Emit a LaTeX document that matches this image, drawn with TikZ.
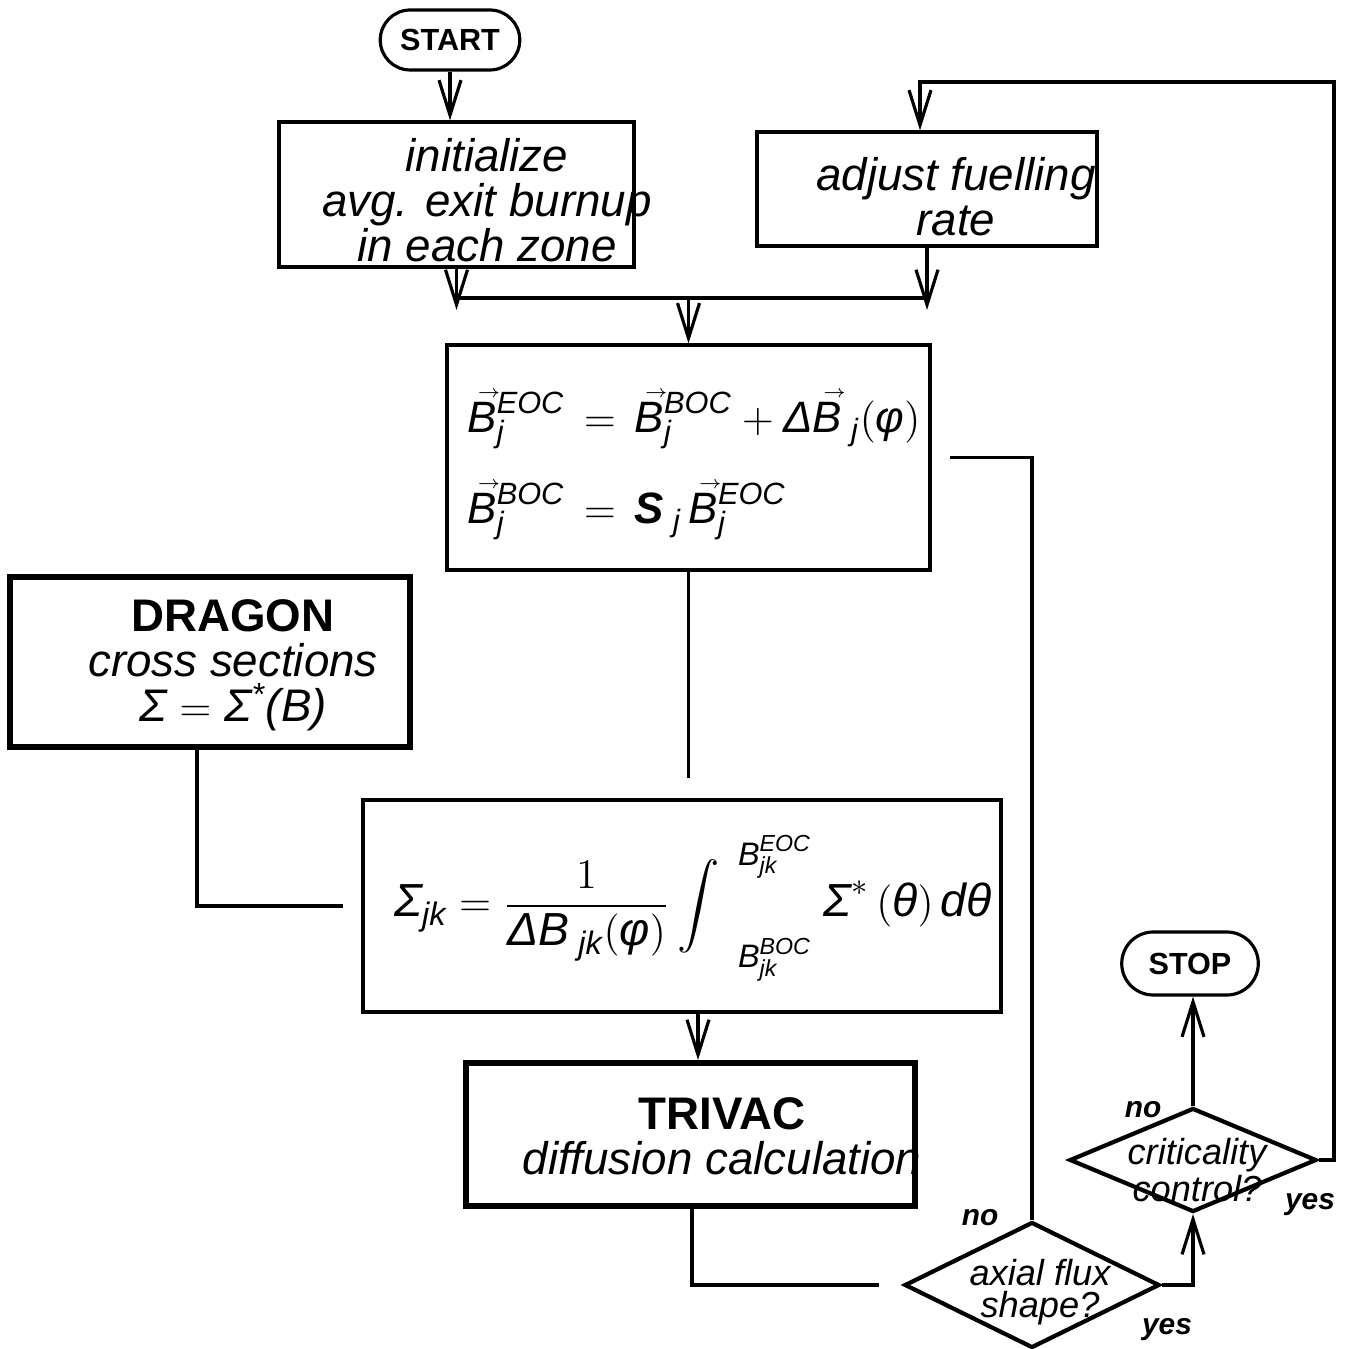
\documentclass[tikz,border=0pt]{standalone}
\usepackage{amsmath}
\usepackage{fontspec}
\setmainfont{Liberation Sans}
\usepackage{tikz}
\usetikzlibrary{shapes.misc}
\usetikzlibrary{shapes.geometric}
\usetikzlibrary{arrows.meta}

\newcommand{\ti}[1]{\text{\itshape #1}}
\newcommand{\vB}{\text{\itshape\rlap{\kern0.22em\smash{\raisebox{0.8em}{\tiny$\rightarrow$}}}B}}

\begin{document}
\begin{tikzpicture}[
		box/.style={rectangle,draw,line width=0.9pt},
		heavybox/.style={rectangle,draw,line width=1.7pt},
		terminal/.style={rounded rectangle,draw,line width=0.9pt,font=\bfseries\fontsize{8.7}{9}\selectfont},
		decision/.style={diamond,draw,line width=1.2pt,inner sep=0pt},
		txt/.style={align=center,font=\itshape\fontsize{13}{12.8}\selectfont},
		smalltxt/.style={align=center,font=\itshape\fontsize{10.3}{9.2}\selectfont},
		answer/.style={font=\bfseries\itshape\fontsize{8.5}{9}\selectfont},
		arr/.style={-{Straight Barb[length=3.5mm,width=2.2mm,line width=0.9pt]},line width=0.9pt},
		line width=0.9pt]
		\useasboundingbox (0,0) rectangle (13.49,-13.49);

		\node (start)[terminal,minimum width=1.63cm,minimum height=0.60cm] at (4.50,-0.40) {START};

		\node (init)[box,minimum width=3.55cm,minimum height=1.45cm] at (4.565,-1.945) {};
		\node (init text)[txt] at (4.87,-2.00) {initialize\\avg. exit burnup\\in each zone};

		\node (adjust)[box,minimum width=3.40cm,minimum height=1.14cm] at (9.27,-1.89) {};
		\node (adjust text)[txt] at (9.56,-1.97) {adjust fuelling\\rate};

		\node (update)[box,minimum width=4.83cm,minimum height=2.25cm] at (6.885,-4.575) {};
		\node (update text)[align=left,font=\itshape\fontsize{12.5}{15}\selectfont] at (6.94,-4.66) {
			$\vB^{\ti{EOC}}_{\ti{j}} \,=\, \vB^{\ti{BOC}}_{\ti{j}} + \ti{Δ}\vB_{\;\ti{j}}(\ti{φ})$\\[3mm]
			$\vB^{\ti{BOC}}_{\ti{j}} \,=\, \textbf{\itshape S}_{\;\ti{j}}\,\vB^{\ti{EOC}}_{\ti{j}}$};

		\node (dragon)[heavybox,minimum width=4.00cm,minimum height=1.70cm] at (2.10,-6.62) {};
		\node (dragon text)[txt] at (2.33,-6.65) {\textbf{\upshape DRAGON}\\cross sections\\Σ $=$ Σ\textsuperscript{*}(B)};

		\node (sigma)[box,minimum width=6.38cm,minimum height=2.12cm] at (6.82,-9.06) {};
		\node (sigma text)[font=\itshape\fontsize{13.2}{15}\selectfont] at (6.93,-9.06) {
			$\displaystyle \ti{Σ}_{\ti{jk}} = \frac{1}{\ti{Δ}\ti{B}_{\;\ti{jk}}(\ti{φ})}\int\;\begin{array}{@{}l@{}}\scriptstyle\ti{B}^{\ti{EOC}}_{\ti{jk}}\\[5mm]\scriptstyle\ti{B}^{\ti{BOC}}_{\ti{jk}}\end{array} \;\ti{Σ}^{*}\,(\ti{θ})\,\ti{d}\ti{θ}$};

		\node (trivac)[heavybox,minimum width=4.49cm,minimum height=1.43cm] at (6.905,-11.345) {};
		\node (trivac text)[txt] at (7.22,-11.36) {\textbf{\upshape TRIVAC}\\diffusion calculation};

		\node (stop)[terminal,minimum width=1.60cm,minimum height=0.63cm] at (11.90,-9.635) {STOP};

		\node (crit)[decision,minimum width=2.47cm,minimum height=1.04cm] at (11.93,-11.60) {};
		\node (crit text)[smalltxt] at (11.97,-11.70) {criticality\\control?};

		\node (axial)[decision,minimum width=2.55cm,minimum height=1.26cm] at (10.32,-12.85) {};
		\node (axial text)[smalltxt] at (10.40,-12.92) {axial flux\\shape?};

		\node (crit no)[answer] at (11.43,-11.10) {no};
		\node (crit yes)[answer] at (13.10,-12.05) {yes};
		\node (axial no)[answer] at (9.80,-12.18) {no};
		\node (axial yes)[answer] at (11.67,-13.30) {yes};

		\coordinate (jl) at (init.south |- 0,-2.98);
		\coordinate (jr) at (adjust.south |- 0,-2.98);
		\coordinate (corner) at (13.34,-0.82);

		\draw[arr] (start.south) -- (start.south |- init.north);
		\draw[arr,shorten >=-1.2mm] (init) -- (jl);
		\draw[arr,shorten >=-1.2mm] (adjust) -- (jr);
		\draw (jl) -- (jr);
		\draw[arr] (update.north |- jl) -- (update);
		\draw (update.south) -- ([yshift=2mm]update.south |- sigma.north);
		\draw (dragon.south -| 1.97,0) |- ([xshift=-1.8mm]sigma.west);
		\draw[arr] (sigma.south -| 6.98,0) -- (trivac.north -| 6.98,0);
		\draw (trivac.south -| 6.92,0) |- ([xshift=-2.3mm]axial.west);
		\draw (axial.north) |- ([xshift=1.8mm]update.east);
		\draw[arr] (axial.east) -| (crit.south);
		\draw[arr] (crit.north) -- (crit.north |- stop.south);
		\draw[arr] (crit.east) -| (corner) -| ([xshift=-0.7mm]adjust.north);
\end{tikzpicture}
\end{document}
